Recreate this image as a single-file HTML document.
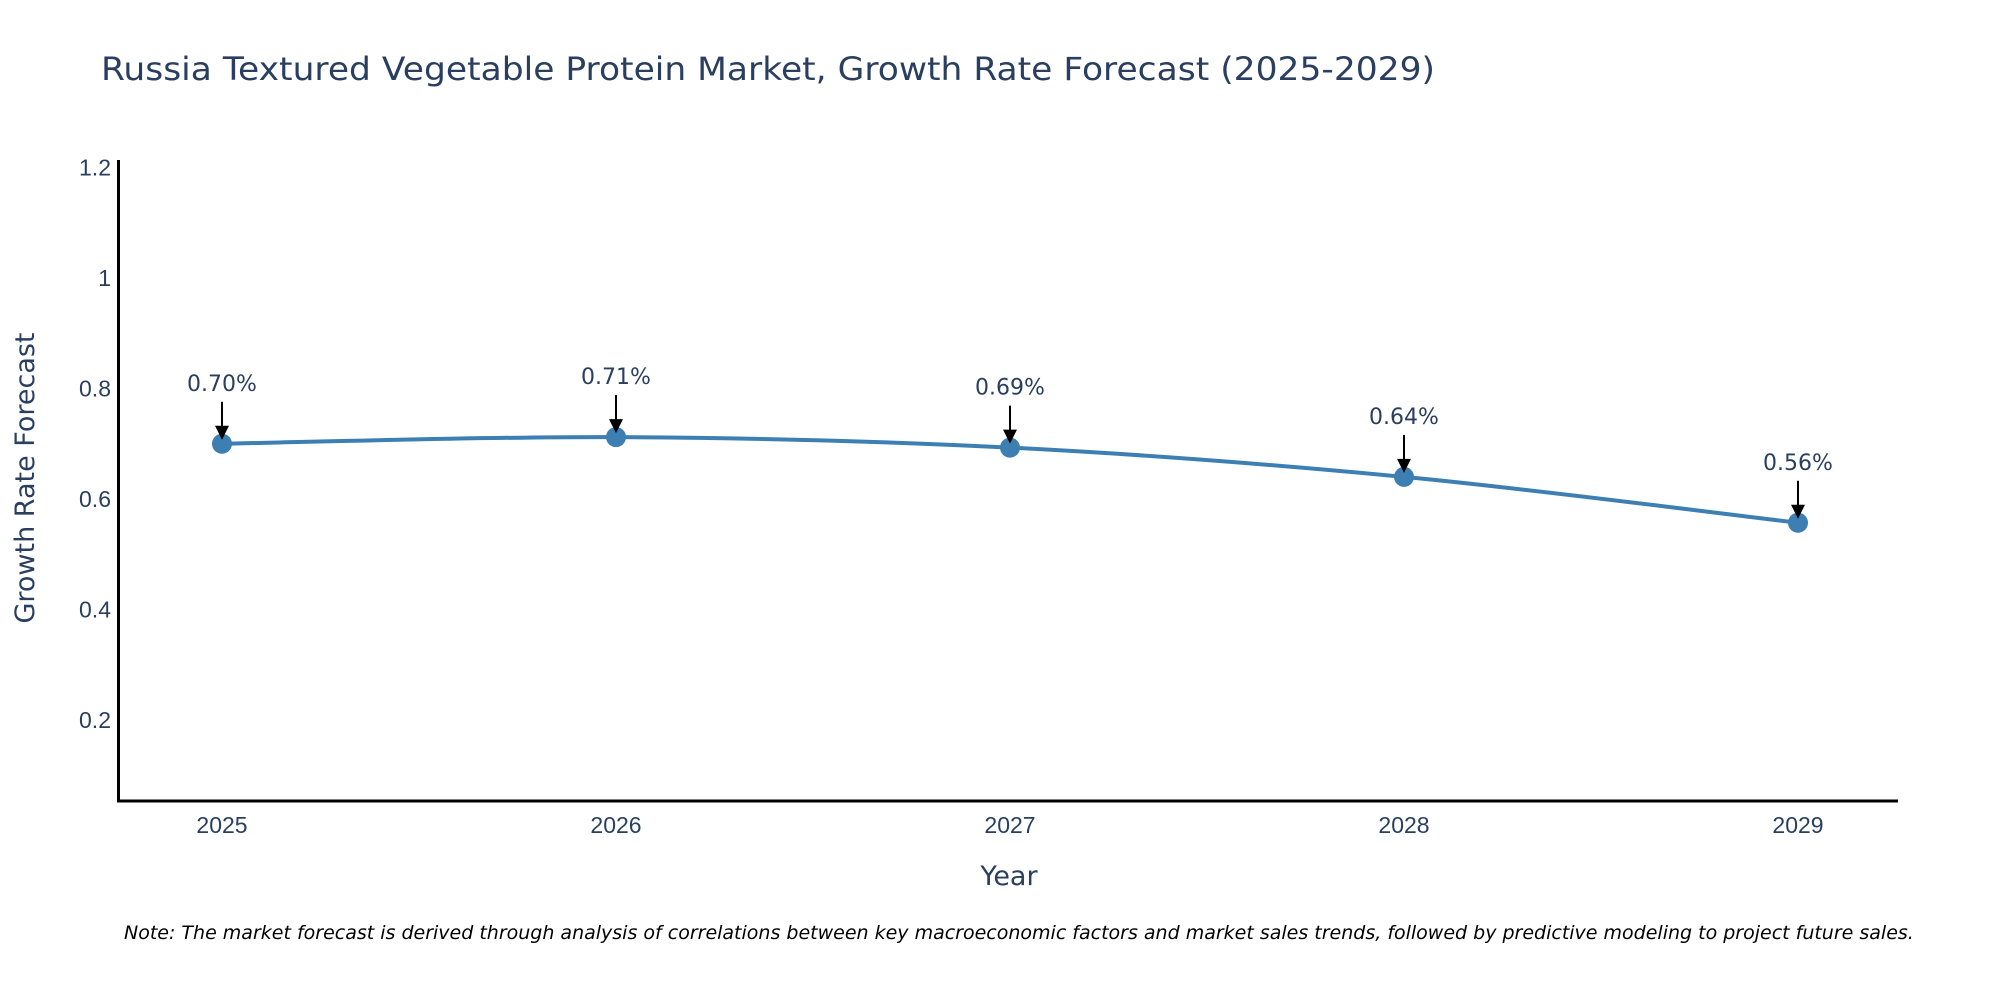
<!DOCTYPE html>
<html><head><meta charset="utf-8"><style>
body{margin:0;background:#fff;}
svg{display:block;font-family:"Liberation Sans",sans-serif;}
.dv{font-family:"DejaVu Sans","Liberation Sans",sans-serif;}
</style></head><body>
<svg id="chart" width="2000" height="1000">
<text class="dv" x="101" y="80" font-size="32" fill="#2a3f5f" textLength="1334" lengthAdjust="spacingAndGlyphs">Russia Textured Vegetable Protein Market, Growth Rate Forecast (2025-2029)</text>
<g id="yticks"></g>
<g id="xticks"></g>
<line x1="118.5" y1="160" x2="118.5" y2="802" stroke="#000" stroke-width="3"/>
<line x1="117" y1="801" x2="1898" y2="801" stroke="#000" stroke-width="3"/>
<text class="dv" transform="translate(34,478) rotate(-90)" text-anchor="middle" font-size="27" fill="#2a3f5f">Growth Rate Forecast</text>
<text class="dv" x="1009" y="885" text-anchor="middle" font-size="27" fill="#2a3f5f">Year</text>
<g id="series"></g>
<text class="dv" x="124" y="939" font-size="19" font-style="italic" fill="#000">Note: The market forecast is derived through analysis of correlations between key macroeconomic factors and market sales trends, followed by predictive modeling to project future sales.</text>
</svg>
<script>
const years=[2025,2026,2027,2028,2029];
const values=[0.70,0.712,0.693,0.64,0.557];
const labels=["0.70%","0.71%","0.69%","0.64%","0.56%"];
const yTicks=[0.2,0.4,0.6,0.8,1,1.2];
const NS="http://www.w3.org/2000/svg";
const xs=y=>222+(y-2025)*(1798-222)/4;
const ys=v=>720-(v-0.2)/0.2*110.5;
function mk(t,a,p){const e=document.createElementNS(NS,t);for(const k in a)e.setAttribute(k,a[k]);p.appendChild(e);return e;}
const yt=document.getElementById('yticks');
yTicks.forEach(v=>{const t=mk('text',{x:111,y:ys(v)+8,'text-anchor':'end','font-size':23,fill:'#2a3f5f'},yt);


t.textContent=String(v);});
const xt=document.getElementById('xticks');
years.forEach(y=>{const t=mk('text',{x:xs(y),y:833,'text-anchor':'middle','font-size':23,fill:'#2a3f5f'},xt);


t.textContent=String(y);});
const g=document.getElementById('series');
const P=years.map((y,i)=>[xs(y),ys(values[i])]);
let d=`M${P[0][0]},${P[0][1]}`;
for(let i=0;i<P.length-1;i++){const p0=P[Math.max(i-1,0)],p1=P[i],p2=P[i+1],p3=P[Math.min(i+2,P.length-1)];
const c1=[p1[0]+(p2[0]-p0[0])/6,p1[1]+(p2[1]-p0[1])/6],c2=[p2[0]-(p3[0]-p1[0])/6,p2[1]-(p3[1]-p1[1])/6];
d+=` C${c1[0]},${c1[1]} ${c2[0]},${c2[1]} ${p2[0]},${p2[1]}`;}
const path=mk('path',{d:d,fill:'none',stroke:'#3d7fb3','stroke-width':4},g);


P.forEach((p,i)=>{
const c=mk('circle',{cx:p[0],cy:p[1],r:10,fill:'#3d7fb3'},g);


const l=mk('line',{x1:p[0],y1:p[1]-42,x2:p[0],y2:p[1]-16,stroke:'#000','stroke-width':2},g);


const a=mk('polygon',{points:`${p[0]-7},${p[1]-18} ${p[0]+7},${p[1]-18} ${p[0]},${p[1]-4}`,fill:'#000'},g);


const t=mk('text',{x:p[0],y:p[1]-53,'text-anchor':'middle','font-size':22,fill:'#2a3f5f','class':'dv'},g);


t.textContent=labels[i];});
</script>
</body></html>
